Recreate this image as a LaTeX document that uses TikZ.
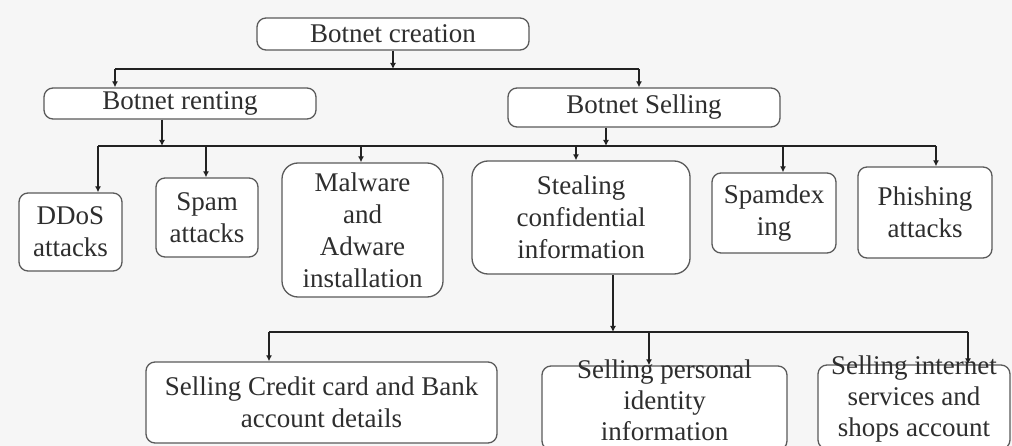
\documentclass[tikz,border=0pt]{standalone}
\usepackage{fontspec}
\setmainfont{Liberation Serif}
\usetikzlibrary{arrows.meta,calc}
\definecolor{bg}{HTML}{F6F6F6}
\definecolor{edge}{HTML}{5A5A5A}
\definecolor{ink}{HTML}{222222}
\definecolor{txt}{HTML}{2E2E2E}
\tikzset{
  box/.style={draw=edge, line width=1.3pt, rounded corners=9pt, fill=white, align=center,
    inner sep=0pt, text=txt, font=\fontsize{27}{32}\selectfont},
  bigbox/.style={box, rounded corners=16pt},
  lbl/.style={align=center, inner sep=0pt, text=txt, font=\fontsize{27}{31}\selectfont},
  bus/.style={draw=ink, line width=2.4pt},
  conn/.style={draw=ink, line width=2.4pt, -{Latex[length=6pt,width=6pt]}}
}
\begin{document}
\begin{tikzpicture}[x=1pt,y=-1pt]
\useasboundingbox (0,0) rectangle (1012,446);
\clip (0,0) rectangle (1012,446);
\fill[bg] (0,0) rectangle (1012,446);

% level 0 and 1
\node[box, minimum width=272, minimum height=32] (creation) at (393,34) {Botnet creation};
\node[box, minimum width=272, minimum height=31] (renting) at (180,103.5) {Botnet renting};
\node[box, minimum width=272, minimum height=39] (selling) at (644,107.5) {Botnet Selling};

% level 2
\node[box, minimum width=103, minimum height=78] (ddos) at (70.5,232) {DDoS\\attacks};
\node[box, minimum width=102, minimum height=79] (spam) at (207,217.5) {Spam\\attacks};
\node[bigbox, minimum width=161, minimum height=134] (malware) at (362.5,230) {Malware\\and\\Adware\\installation};
\node[bigbox, minimum width=218, minimum height=113] (stealing) at (581,217.5) {Stealing\\confidential\\information};
\node[box, minimum width=124, minimum height=80] (spamdex) at (774,213) {Spamdex\\ing};
\node[box, minimum width=134, minimum height=91] (phishing) at (925,212.5) {Phishing\\attacks};

% level 3
\node[box, minimum width=351, minimum height=81] (credit) at (321.5,402.5) {Selling Credit card and Bank\\account details};
\node[box, minimum width=245, minimum height=84] (personal) at (664.5,408) {};
\node[lbl] (personaltext) at (664.5,400) {Selling personal\\identity\\information};
\node[box, minimum width=192, minimum height=84] (internet) at (914,407) {};
\node[lbl] (internettext) at (914,399) {Selling internet\\services and\\shops account};

% top bus
\coordinate (t1) at (115,69);
\coordinate (t2) at (639,69);
\draw[bus] (t1) -- (t2);
\draw[conn] (creation.south) -- (creation.south |- t1);
\draw[conn] (t1) -- (t1 |- renting.north);
\draw[conn] (t2) -- (t2 |- selling.north);

% middle bus
\coordinate (m1) at (98,146);
\coordinate (m2) at (936,146);
\coordinate (rd) at (162,146);
\coordinate (sd) at (606,146);
\coordinate (d2) at (206,146);
\coordinate (d3) at (361,146);
\coordinate (d4) at (576,146);
\coordinate (d5) at (783,146);
\draw[bus] (m1) -- (m2);
\draw[conn] (rd |- renting.south) -- (rd);
\draw[conn] (sd |- selling.south) -- (sd);
\draw[conn] (m1) -- (m1 |- ddos.north);
\draw[conn] (d2) -- (d2 |- spam.north);
\draw[conn] (d3) -- (d3 |- malware.north);
\draw[conn] (d4) -- (d4 |- stealing.north);
\draw[conn] (d5) -- (d5 |- spamdex.north);
\draw[conn] (m2) -- (m2 |- phishing.north);

% lower bus
\coordinate (l1) at (269,332);
\coordinate (l2) at (649,332);
\coordinate (l3) at (968,332);
\coordinate (sd2) at (613,332);
\draw[bus] (l1) -- (l3);
\draw[conn] (sd2 |- stealing.south) -- (sd2);
\draw[conn] (l1) -- (l1 |- credit.north);
\draw[conn] (l2) -- (l2 |- personal.north);
\draw[conn] (l3) -- (l3 |- internet.north);
\end{tikzpicture}
\end{document}
